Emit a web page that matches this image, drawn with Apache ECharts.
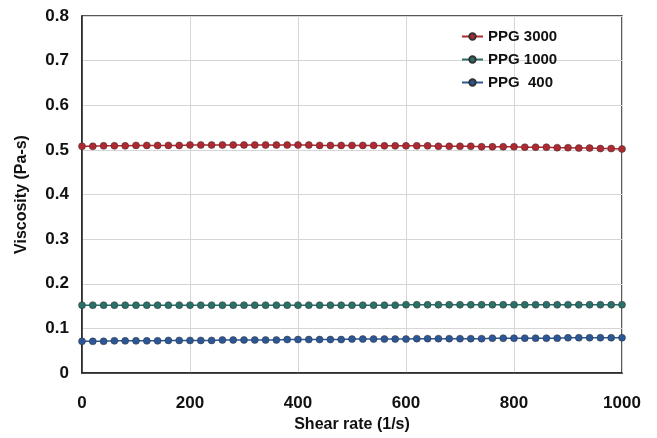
<!DOCTYPE html>
<html>
<head>
<meta charset="utf-8">
<script src="https://cdn.jsdelivr.net/npm/echarts@6/dist/echarts.min.js"></script>
<style>
  html, body { margin: 0; padding: 0; background: #fff; }
  #chart { width: 657px; height: 438px; }
</style>
</head>
<body>
<div id="chart"></div>
<script>
// shear rate, 0..1000 every 20 1/s
var shearRate = [
  0, 20, 40, 60, 80, 100, 120, 140, 160, 180,
  200, 220, 240, 260, 280, 300, 320, 340, 360, 380,
  400, 420, 440, 460, 480, 500, 520, 540, 560, 580,
  600, 620, 640, 660, 680, 700, 720, 740, 760, 780,
  800, 820, 840, 860, 880, 900, 920, 940, 960, 980,
  1000
];
var ppg3000 = [
  0.508, 0.508, 0.509, 0.509, 0.509, 0.510, 0.510, 0.510, 0.510, 0.510,
  0.511, 0.511, 0.511, 0.511, 0.511, 0.511, 0.511, 0.511, 0.511, 0.511,
  0.511, 0.511, 0.510, 0.510, 0.510, 0.510, 0.510, 0.510, 0.509, 0.509,
  0.509, 0.509, 0.509, 0.508, 0.508, 0.508, 0.508, 0.507, 0.507, 0.507,
  0.507, 0.506, 0.506, 0.506, 0.505, 0.505, 0.504, 0.504, 0.503, 0.503,
  0.502
];
var ppg1000 = [
  0.152, 0.152, 0.152, 0.152, 0.152, 0.152, 0.152, 0.152, 0.152, 0.152,
  0.152, 0.152, 0.152, 0.152, 0.152, 0.152, 0.152, 0.152, 0.152, 0.152,
  0.152, 0.152, 0.152, 0.152, 0.152, 0.152, 0.152, 0.152, 0.152, 0.152,
  0.153, 0.153, 0.153, 0.153, 0.153, 0.153, 0.153, 0.153, 0.153, 0.153,
  0.153, 0.153, 0.153, 0.153, 0.153, 0.153, 0.153, 0.153, 0.153, 0.153,
  0.153
];
var ppg400 = [
  0.071, 0.071, 0.071, 0.072, 0.072, 0.072, 0.072, 0.072, 0.073, 0.073,
  0.073, 0.073, 0.073, 0.074, 0.074, 0.074, 0.074, 0.074, 0.074, 0.075,
  0.075, 0.075, 0.075, 0.075, 0.075, 0.076, 0.076, 0.076, 0.076, 0.076,
  0.076, 0.077, 0.077, 0.077, 0.077, 0.077, 0.077, 0.077, 0.078, 0.078,
  0.078, 0.078, 0.078, 0.078, 0.078, 0.079, 0.079, 0.079, 0.079, 0.079,
  0.079
];
var seriesNames = ['PPG 3000', 'PPG 1000', 'PPG  400'];
var seriesColors = ['#b02830', '#2a7068', '#2c5796'];

function pairs(ys) {
  return shearRate.map(function(x, i) { return [x, ys[i]]; });
}

var chart = echarts.init(document.getElementById('chart'));
var font = '"Liberation Sans", Arial, sans-serif';

chart.setOption({
  animation: false,
  grid: { left: 82, right: 35, top: 16, bottom: 65, show: true, borderColor: '#222', borderWidth: 1.5 },
  legend: {
    orient: 'vertical',
    left: 461,
    top: 29,
    padding: 0,
    itemGap: 8,
    itemWidth: 21,
    itemHeight: 8,
    textStyle: { fontFamily: font, fontWeight: 'bold', fontSize: 15, color: '#111' },
    data: seriesNames
  },
  xAxis: {
    type: 'value',
    min: 0,
    max: 1000,
    interval: 200,
    name: 'Shear rate (1/s)',
    nameLocation: 'middle',
    nameGap: 42,
    nameTextStyle: { fontFamily: font, fontWeight: 'bold', fontSize: 16, color: '#111' },
    axisLine: { lineStyle: { color: '#222', width: 1.5 } },
    axisTick: { show: false },
    axisLabel: {
      margin: 22, fontFamily: font, fontWeight: 'bold', fontSize: 17, color: '#111',
      formatter: function(v) { return String(v); }
    },
    splitLine: { lineStyle: { color: '#d6d6d6', width: 1 } }
  },
  yAxis: {
    type: 'value',
    min: 0,
    max: 0.8,
    interval: 0.1,
    name: 'Viscosity (Pa-s)',
    nameLocation: 'middle',
    nameGap: 52,
    nameTextStyle: { fontFamily: font, fontWeight: 'bold', fontSize: 16, color: '#111' },
    axisLine: { show: true, lineStyle: { color: '#222', width: 1.5 } },
    axisTick: { show: false },
    axisLabel: { margin: 13, fontFamily: font, fontWeight: 'bold', fontSize: 17, color: '#111' },
    splitLine: { lineStyle: { color: '#d6d6d6', width: 1 } }
  },
  series: [ppg3000, ppg1000, ppg400].map(function(ys, i) {
    return {
      name: seriesNames[i],
      type: 'line',
      data: pairs(ys),
      symbol: 'circle',
      symbolSize: 7,
      color: seriesColors[i],
      lineStyle: { color: seriesColors[i], width: 1.5 },
      itemStyle: { color: seriesColors[i], borderColor: '#333', borderWidth: 0.5 }
    };
  })
});
</script>
</body>
</html>
